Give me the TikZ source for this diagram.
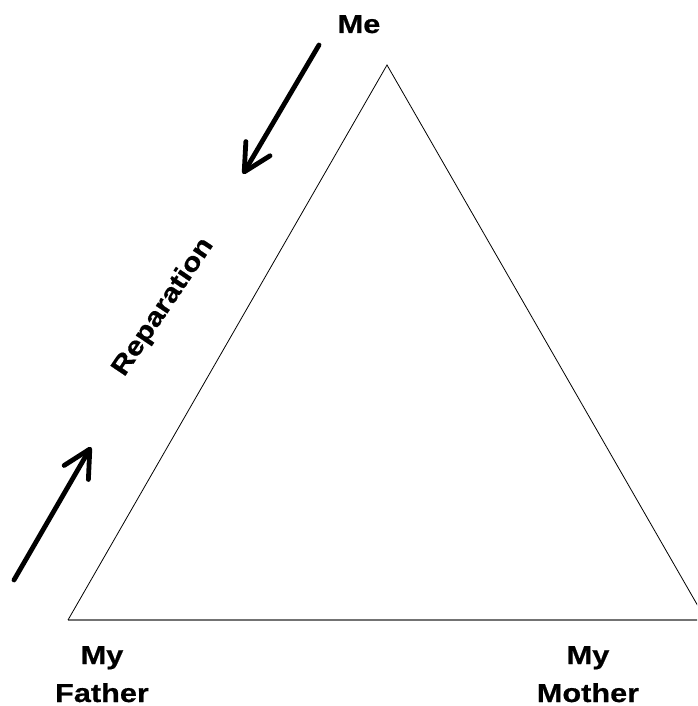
\documentclass[tikz,border=0pt]{standalone}
\usepackage{fontspec}
\setmainfont{Liberation Sans}
\newfontfamily\lblfont[FakeStretch=1.18,FakeBold=0.6]{Liberation Sans}
\usetikzlibrary{arrows.meta}
\begin{document}
\begin{tikzpicture}[x=1pt,y=-1pt,
  lbl/.style={font=\lblfont\bfseries\fontsize{26}{38}\selectfont, align=center, inner sep=0pt},
  bigarrow/.style={line width=4.8pt, line cap=round, line join=round,
    -{Straight Barb[length=27pt,width=28pt,line cap=round,line join=round]}},
  triedge/.style={line width=0.8pt},
  tribase/.style={line width=1.6pt, draw=black!55}]
\useasboundingbox (0,0) rectangle (697,706);
\begin{scope}
\clip (0,0) rectangle (697,706);
\coordinate (apex) at (387,65);
\coordinate (fl) at (68,620);
\coordinate (fr) at (706,620);
\draw[tribase] (fl) -- (fr);
\draw[triedge] (fl) -- (apex) -- (fr);
\end{scope}
\node[lbl, anchor=base] (me) at (359,33) {Me};
\node[lbl, anchor=base] (father) at (102,702) {My\\Father};
\node[lbl, anchor=base] (mother) at (588,702) {My\\Mother};
\node[lbl, rotate=56, anchor=base] (rep) at (169,311) {Reparation};
\coordinate (a1s) at (319,45);
\coordinate (a1e) at (243,174);
\draw[bigarrow] (a1s) -- (a1e);
\coordinate (a2s) at (14,580);
\coordinate (a2e) at (91,447);
\draw[bigarrow] (a2s) -- (a2e);
\end{tikzpicture}
\end{document}
